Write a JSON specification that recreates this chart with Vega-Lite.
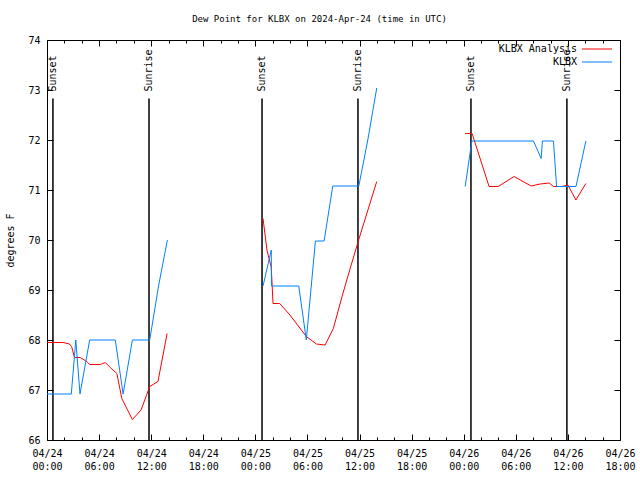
{
  "$schema": "https://vega.github.io/schema/vega-lite/v6.json",
  "width": 573,
  "height": 400,
  "autosize": "none",
  "padding": {"left": 47, "top": 40, "right": 20, "bottom": 40},
  "background": "white",
  "title": {"text": "Dew Point for KLBX on 2024-Apr-24 (time in UTC)", "font": "DejaVu Sans Mono", "fontSize": 9, "fontWeight": "normal", "color": "black", "offset": 11, "anchor": "middle", "dx": -14},
  "config": {
    "font": "DejaVu Sans Mono",
    "view": {"stroke": "black", "strokeWidth": 1},
    "axis": {"domain": false, "grid": false, "labelFont": "DejaVu Sans Mono", "labelFontSize": 10, "labelColor": "black", "titleFont": "DejaVu Sans Mono", "titleFontSize": 10, "titleFontWeight": "normal", "titleColor": "black", "tickColor": "black", "tickWidth": 1}
  },
  "datasets": {
    "obs": [
      {"s": "KLBX Analysis", "g": 1, "t": "2024-04-24T00:00:00Z", "v": 67.95},
      {"s": "KLBX Analysis", "g": 1, "t": "2024-04-24T01:53:00Z", "v": 67.95},
      {"s": "KLBX Analysis", "g": 1, "t": "2024-04-24T02:35:00Z", "v": 67.92},
      {"s": "KLBX Analysis", "g": 1, "t": "2024-04-24T02:50:00Z", "v": 67.87},
      {"s": "KLBX Analysis", "g": 1, "t": "2024-04-24T03:10:00Z", "v": 67.65},
      {"s": "KLBX Analysis", "g": 1, "t": "2024-04-24T03:50:00Z", "v": 67.65},
      {"s": "KLBX Analysis", "g": 1, "t": "2024-04-24T04:35:00Z", "v": 67.57},
      {"s": "KLBX Analysis", "g": 1, "t": "2024-04-24T04:55:00Z", "v": 67.51},
      {"s": "KLBX Analysis", "g": 1, "t": "2024-04-24T06:08:00Z", "v": 67.51},
      {"s": "KLBX Analysis", "g": 1, "t": "2024-04-24T06:43:00Z", "v": 67.55},
      {"s": "KLBX Analysis", "g": 1, "t": "2024-04-24T07:17:00Z", "v": 67.45},
      {"s": "KLBX Analysis", "g": 1, "t": "2024-04-24T08:03:00Z", "v": 67.33},
      {"s": "KLBX Analysis", "g": 1, "t": "2024-04-24T08:37:00Z", "v": 66.83},
      {"s": "KLBX Analysis", "g": 1, "t": "2024-04-24T09:50:00Z", "v": 66.41},
      {"s": "KLBX Analysis", "g": 1, "t": "2024-04-24T10:50:00Z", "v": 66.6},
      {"s": "KLBX Analysis", "g": 1, "t": "2024-04-24T11:50:00Z", "v": 67.07},
      {"s": "KLBX Analysis", "g": 1, "t": "2024-04-24T12:47:00Z", "v": 67.17},
      {"s": "KLBX Analysis", "g": 1, "t": "2024-04-24T13:50:00Z", "v": 68.13},
      {"s": "KLBX", "g": 1, "t": "2024-04-24T00:00:00Z", "v": 66.92},
      {"s": "KLBX", "g": 1, "t": "2024-04-24T02:48:00Z", "v": 66.92},
      {"s": "KLBX", "g": 1, "t": "2024-04-24T03:19:00Z", "v": 68.0},
      {"s": "KLBX", "g": 1, "t": "2024-04-24T03:48:00Z", "v": 66.92},
      {"s": "KLBX", "g": 1, "t": "2024-04-24T04:55:00Z", "v": 68.0},
      {"s": "KLBX", "g": 1, "t": "2024-04-24T07:52:00Z", "v": 68.0},
      {"s": "KLBX", "g": 1, "t": "2024-04-24T08:46:00Z", "v": 66.92},
      {"s": "KLBX", "g": 1, "t": "2024-04-24T09:50:00Z", "v": 68.0},
      {"s": "KLBX", "g": 1, "t": "2024-04-24T11:50:00Z", "v": 68.0},
      {"s": "KLBX", "g": 1, "t": "2024-04-24T12:51:00Z", "v": 69.08},
      {"s": "KLBX", "g": 1, "t": "2024-04-24T13:52:00Z", "v": 70.0},
      {"s": "KLBX Analysis", "g": 2, "t": "2024-04-25T00:53:00Z", "v": 70.43},
      {"s": "KLBX Analysis", "g": 2, "t": "2024-04-25T01:20:00Z", "v": 69.8},
      {"s": "KLBX Analysis", "g": 2, "t": "2024-04-25T01:50:00Z", "v": 69.45},
      {"s": "KLBX Analysis", "g": 2, "t": "2024-04-25T02:02:00Z", "v": 68.73},
      {"s": "KLBX Analysis", "g": 2, "t": "2024-04-25T02:48:00Z", "v": 68.73},
      {"s": "KLBX Analysis", "g": 2, "t": "2024-04-25T03:59:00Z", "v": 68.5},
      {"s": "KLBX Analysis", "g": 2, "t": "2024-04-25T05:52:00Z", "v": 68.07},
      {"s": "KLBX Analysis", "g": 2, "t": "2024-04-25T07:02:00Z", "v": 67.92},
      {"s": "KLBX Analysis", "g": 2, "t": "2024-04-25T08:02:00Z", "v": 67.9},
      {"s": "KLBX Analysis", "g": 2, "t": "2024-04-25T08:59:00Z", "v": 68.23},
      {"s": "KLBX Analysis", "g": 2, "t": "2024-04-25T10:00:00Z", "v": 68.88},
      {"s": "KLBX Analysis", "g": 2, "t": "2024-04-25T11:00:00Z", "v": 69.48},
      {"s": "KLBX Analysis", "g": 2, "t": "2024-04-25T12:00:00Z", "v": 70.06},
      {"s": "KLBX Analysis", "g": 2, "t": "2024-04-25T13:00:00Z", "v": 70.62},
      {"s": "KLBX Analysis", "g": 2, "t": "2024-04-25T13:59:00Z", "v": 71.17},
      {"s": "KLBX", "g": 2, "t": "2024-04-25T00:53:00Z", "v": 69.08},
      {"s": "KLBX", "g": 2, "t": "2024-04-25T01:50:00Z", "v": 69.8},
      {"s": "KLBX", "g": 2, "t": "2024-04-25T01:51:00Z", "v": 69.08},
      {"s": "KLBX", "g": 2, "t": "2024-04-25T05:00:00Z", "v": 69.08},
      {"s": "KLBX", "g": 2, "t": "2024-04-25T05:52:00Z", "v": 68.0},
      {"s": "KLBX", "g": 2, "t": "2024-04-25T06:55:00Z", "v": 69.98},
      {"s": "KLBX", "g": 2, "t": "2024-04-25T07:55:00Z", "v": 69.98},
      {"s": "KLBX", "g": 2, "t": "2024-04-25T08:55:00Z", "v": 71.08},
      {"s": "KLBX", "g": 2, "t": "2024-04-25T11:55:00Z", "v": 71.08},
      {"s": "KLBX", "g": 2, "t": "2024-04-25T12:57:00Z", "v": 72.0},
      {"s": "KLBX", "g": 2, "t": "2024-04-25T13:59:00Z", "v": 73.04},
      {"s": "KLBX Analysis", "g": 3, "t": "2024-04-26T00:10:00Z", "v": 72.13},
      {"s": "KLBX Analysis", "g": 3, "t": "2024-04-26T00:58:00Z", "v": 72.13},
      {"s": "KLBX Analysis", "g": 3, "t": "2024-04-26T02:55:00Z", "v": 71.07},
      {"s": "KLBX Analysis", "g": 3, "t": "2024-04-26T03:58:00Z", "v": 71.07},
      {"s": "KLBX Analysis", "g": 3, "t": "2024-04-26T04:53:00Z", "v": 71.17},
      {"s": "KLBX Analysis", "g": 3, "t": "2024-04-26T05:48:00Z", "v": 71.27},
      {"s": "KLBX Analysis", "g": 3, "t": "2024-04-26T06:43:00Z", "v": 71.18},
      {"s": "KLBX Analysis", "g": 3, "t": "2024-04-26T07:46:00Z", "v": 71.08},
      {"s": "KLBX Analysis", "g": 3, "t": "2024-04-26T08:48:00Z", "v": 71.12},
      {"s": "KLBX Analysis", "g": 3, "t": "2024-04-26T09:50:00Z", "v": 71.14},
      {"s": "KLBX Analysis", "g": 3, "t": "2024-04-26T10:20:00Z", "v": 71.07},
      {"s": "KLBX Analysis", "g": 3, "t": "2024-04-26T11:18:00Z", "v": 71.07},
      {"s": "KLBX Analysis", "g": 3, "t": "2024-04-26T12:00:00Z", "v": 71.1},
      {"s": "KLBX Analysis", "g": 3, "t": "2024-04-26T12:55:00Z", "v": 70.8},
      {"s": "KLBX Analysis", "g": 3, "t": "2024-04-26T14:04:00Z", "v": 71.13},
      {"s": "KLBX", "g": 3, "t": "2024-04-26T00:10:00Z", "v": 71.07},
      {"s": "KLBX", "g": 3, "t": "2024-04-26T00:56:00Z", "v": 71.98},
      {"s": "KLBX", "g": 3, "t": "2024-04-26T08:02:00Z", "v": 71.98},
      {"s": "KLBX", "g": 3, "t": "2024-04-26T08:55:00Z", "v": 71.63},
      {"s": "KLBX", "g": 3, "t": "2024-04-26T09:04:00Z", "v": 71.98},
      {"s": "KLBX", "g": 3, "t": "2024-04-26T10:20:00Z", "v": 71.98},
      {"s": "KLBX", "g": 3, "t": "2024-04-26T10:42:00Z", "v": 71.07},
      {"s": "KLBX", "g": 3, "t": "2024-04-26T12:56:00Z", "v": 71.07},
      {"s": "KLBX", "g": 3, "t": "2024-04-26T14:04:00Z", "v": 71.98}
    ],
    "sun": [
      {"e": "Sunset", "t": "2024-04-24T00:41:00Z"},
      {"e": "Sunrise", "t": "2024-04-24T11:45:00Z"},
      {"e": "Sunset", "t": "2024-04-25T00:46:00Z"},
      {"e": "Sunrise", "t": "2024-04-25T11:49:00Z"},
      {"e": "Sunset", "t": "2024-04-26T00:50:00Z"},
      {"e": "Sunrise", "t": "2024-04-26T11:53:00Z"}
    ]
  },
  "resolve": {"axis": {"x": "independent", "y": "independent"}},
  "layer": [
    {
      "data": {"name": "sun"},
      "mark": {"type": "rule", "color": "black", "strokeWidth": 1.5},
      "encoding": {
        "x": {"field": "t", "type": "temporal", "axis": null,
          "scale": {"type": "utc", "domain": [1713916800000, 1714154400000]}},
        "y": {"datum": 66, "type": "quantitative", "axis": null, "scale": {"domain": [66, 74], "nice": false, "zero": false}},
        "y2": {"datum": 72.83}
      }
    },
    {
      "data": {"name": "obs"},
      "mark": {"type": "line", "strokeWidth": 1, "interpolate": "linear"},
      "encoding": {
        "x": {"field": "t", "type": "temporal",
          "scale": {"type": "utc", "domain": [1713916800000, 1714154400000]},
          "axis": {"orient": "bottom", "title": null,
            "values": [1713916800000, 1713924000000, 1713931200000, 1713938400000, 1713945600000, 1713952800000, 1713960000000, 1713967200000, 1713974400000, 1713981600000, 1713988800000, 1713996000000, 1714003200000, 1714010400000, 1714017600000, 1714024800000, 1714032000000, 1714039200000, 1714046400000, 1714053600000, 1714060800000, 1714068000000, 1714075200000, 1714082400000, 1714089600000, 1714096800000, 1714104000000, 1714111200000, 1714118400000, 1714125600000, 1714132800000, 1714140000000, 1714147200000, 1714154400000],
            "labelExpr": "(datum.value - 1713916800000) % 21600000 == 0 ? [utcFormat(datum.value, '%m/%d'), utcFormat(datum.value, '%H:%M')] : ''",
            "labelAngle": 0, "labelAlign": "center", "labelBaseline": "top", "labelLineHeight": 13,
            "labelOverlap": false, "labelFlush": false, "labelPadding": 14,
            "tickSize": {"condition": {"test": "(datum.value - 1713916800000) % 21600000 == 0", "value": -6}, "value": -3}}},
        "y": {"field": "v", "type": "quantitative",
          "scale": {"domain": [66, 74], "nice": false, "zero": false},
          "axis": {"orient": "left", "title": "degrees F", "values": [66, 67, 68, 69, 70, 71, 72, 73, 74], "tickSize": -6, "labelPadding": 13, "titlePadding": 12}},
        "color": {"field": "s", "type": "nominal",
          "scale": {"domain": ["KLBX Analysis", "KLBX"], "range": ["#ff0000", "#0080ff"]},
          "legend": {"orient": "none", "legendX": 545, "legendY": 4, "title": null, "direction": "vertical", "symbolType": "M-5,0H5", "symbolSize": 36, "symbolStrokeWidth": 1, "symbolFillColor": "transparent", "labelAlign": "right", "labelOffset": -25, "labelFont": "DejaVu Sans Mono", "labelFontSize": 10, "labelColor": "black", "rowPadding": 3, "padding": 0, "symbolOffset": 0}},
        "detail": {"field": "g", "type": "nominal"}
      }
    },
    {
      "data": {"name": "obs"},
      "mark": {"type": "point", "opacity": 0},
      "encoding": {
        "x": {"field": "t", "type": "temporal",
          "scale": {"type": "utc", "domain": [1713916800000, 1714154400000]},
          "axis": {"orient": "top", "title": null, "labels": false,
            "values": [1713916800000, 1713924000000, 1713931200000, 1713938400000, 1713945600000, 1713952800000, 1713960000000, 1713967200000, 1713974400000, 1713981600000, 1713988800000, 1713996000000, 1714003200000, 1714010400000, 1714017600000, 1714024800000, 1714032000000, 1714039200000, 1714046400000, 1714053600000, 1714060800000, 1714068000000, 1714075200000, 1714082400000, 1714089600000, 1714096800000, 1714104000000, 1714111200000, 1714118400000, 1714125600000, 1714132800000, 1714140000000, 1714147200000, 1714154400000],
            "tickSize": {"condition": {"test": "(datum.value - 1713916800000) % 21600000 == 0", "value": -6}, "value": -3}}},
        "y": {"field": "v", "type": "quantitative",
          "scale": {"domain": [66, 74], "nice": false, "zero": false},
          "axis": {"orient": "right", "title": null, "labels": false, "values": [66, 67, 68, 69, 70, 71, 72, 73, 74], "tickSize": -6}}
      }
    },
    {
      "data": {"name": "sun"},
      "mark": {"type": "text", "angle": 270, "align": "left", "baseline": "middle", "font": "DejaVu Sans Mono", "fontSize": 10, "color": "black"},
      "encoding": {
        "x": {"field": "t", "type": "temporal", "axis": null,
          "scale": {"type": "utc", "domain": [1713916800000, 1714154400000]}},
        "y": {"datum": 72.97, "type": "quantitative", "axis": null, "scale": {"domain": [66, 74], "nice": false, "zero": false}},
        "text": {"field": "e"}
      }
    }
  ]
}
